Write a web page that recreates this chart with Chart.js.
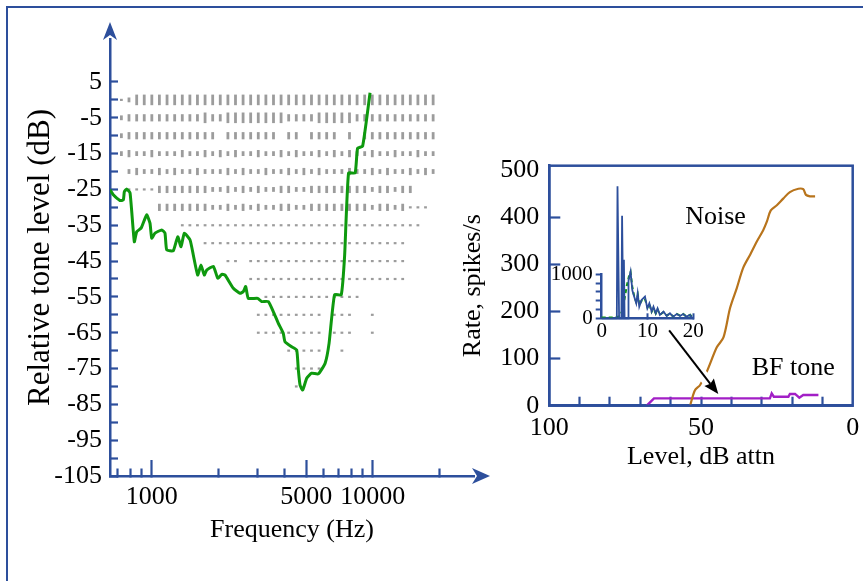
<!DOCTYPE html>
<html>
<head>
<meta charset="utf-8">
<script src="https://cdn.jsdelivr.net/npm/chart.js@4.4.1/dist/chart.umd.min.js"></script>
<style>
  html, body { margin: 0; padding: 0; background: #fff; }
  body { width: 863px; height: 581px; position: relative; overflow: hidden; }
  #frame { position: absolute; left: 6px; top: 6px; width: 900px; height: 620px;
           border-top: 2px solid #2d4f9c; border-left: 2px solid #2d4f9c; }
  canvas { position: absolute; }
  #tuning { left: 0; top: 0; }
  #rate { left: 440px; top: 140px; }
  #hist { left: 540px; top: 150px; }
</style>
</head>
<body>
<div id="frame"></div>
<canvas id="tuning" width="500" height="581"></canvas>
<canvas id="rate" width="423" height="341"></canvas>
<canvas id="hist" width="180" height="200"></canvas>
<script>
// ---- left panel: tuning curve over the response area ----
const freqTicks = [700, 800, 900, 1000, 2000, 3000, 4000, 5000, 6000, 7000, 8000, 9000, 10000, 20000];
const freqLabeled = [1000, 5000, 10000];
const levelTicks = [-105, -100, -95, -90, -85, -80, -75, -70, -65, -60, -55, -50, -45, -40,
                    -35, -30, -25, -20, -15, -10, -5, 0, 5];
const levelLabeled = [-105, -95, -85, -75, -65, -55, -45, -35, -25, -15, -5, 5];

const tuningFreq = [648, 670, 719, 744, 752, 771, 798, 834, 855, 895, 949, 982, 1000,
  1035, 1110, 1148, 1169, 1252, 1311, 1357, 1404, 1491, 1542, 1614, 1670, 1729, 1773,
  1901, 1990, 2073, 2145, 2340, 2509, 2597, 2662, 2734, 3016, 3142, 3370, 3547, 3735,
  3933, 4007, 4292, 4526, 4605, 4687, 4819, 5025, 5289, 5669, 6088, 6344, 6714, 7200,
  7455, 7770, 8320, 8535, 8997, 9720];
const tuningLevel = [-25.1, -26.5, -28.1, -27.9, -25.6, -24.9, -26.0, -39.6, -36.8, -35.8, -32.1, -34.4, -38.6,
  -37.2, -36.3, -37.2, -41.9, -42.1, -38.2, -41.0, -37.2, -39.1, -43.3, -48.9, -46.1, -48.9, -47.5,
  -46.5, -49.8, -48.7, -48.9, -52.6, -54.0, -53.5, -52.1, -55.4, -55.4, -56.3, -56.3, -59.1, -62.3,
  -65.1, -67.5, -68.9, -69.8, -75.4, -79.6, -81.0, -77.7, -76.3, -76.5, -73.5, -67.9, -54.4, -54.4,
  -43.7, -20.4, -20.4, -13.5, -12.9, 2.0];

// stimulus frequencies of the raster and one string per level row
// (0 = no response, 1..4 = small to tall mark)
const rasterFreq = [729, 789, 855, 925, 1001, 1083, 1173, 1270, 1375, 1488,
  1610, 1743, 1887, 2042, 2211, 2393, 2590, 2803, 3034, 3284,
  3555, 3847, 4164, 4507, 4879, 5281, 5716, 6187, 6697, 7249,
  7846, 8492, 9192, 9949, 10769, 11656, 12617, 13656, 14782, 16000,
  17318, 18750];
const rasterLevel = [0, -5, -10, -15, -20, -25, -30, -35, -40, -45, -50, -55, -60, -65, -70, -75, -80];
const rasterRows = [
  '124444 444444 444444 444444 444444 444444 444444',
  '233333 333334 334444 444433 334444 433333 333333',
  '233333 333333 303333 333033 033330 303333 333333',
  '232232 223223 232322 322323 223232 322322 322322',
  '023223 232232 223232 232232 323222 322323 223232',
  '011113 333333 223232 322332 233333 333233 233000',
  '000003 333333 223232 322332 233333 333233 231110',
  '000000 001111 111111 111111 111111 111111 111100',
  '000000 000001 111111 111111 111111 111111 110000',
  '000000 000000 001101 111111 111111 111111 110000',
  '000000 000000 000001 111111 111111 111111 110000',
  '000000 000000 000000 011111 111111 110000 000000',
  '000000 000000 000000 111111 111011 100100 000000',
  '000000 000000 000000 111111 111011 100100 000000',
  '000000 000000 000000 000011 111001 000000 000000',
  '000000 000000 000000 000001 111000 000000 000000',
  '000000 000000 000000 000001 000000 000000 000000'
];

// ---- right panel: rate-level functions ----
const attnTicks = [0, 10, 20, 30, 40, 50, 60, 70, 80, 90, 100];
const attnLabeled = [0, 50, 100];
const rateTicks = [0, 100, 200, 300, 400, 500];
const noiseLevel = [53.6, 52.0, 50.3, 47.9, 44.8, 42.6, 40.4, 38.2, 36.1, 33.8, 31.6,
  29.5, 28.3, 27.0, 25.0, 22.9, 20.7, 17.9, 16.3, 15.4, 14.1, 12.4];
const noiseRate = [0, 33, 44, 75, 124, 145, 208, 250, 293, 321, 349,
  373, 391, 415, 426, 440, 454, 461, 460, 448, 445, 445];
const toneLevel = [67.9, 65.5, 27.3, 26.7, 26.0, 21.2, 20.7, 19.0, 17.6, 16.3, 11.3];
const toneRate = [0, 15.6, 15.6, 26, 19, 19, 25, 25, 17, 22.6, 22.6];
const noteText = ['Noise', 'BF tone'];
const noteLevel = [45.2, 19.6];
const noteRate = [401, 79];
const arrowLevel = [60.5, 44.3];
const arrowRate = [160, 24.6];

// ---- inset: period histogram ----
const histTimeTicks = [0, 10, 20];
const histRateTicks = [0, 200, 400, 600, 800, 1000];
const histRateLabeled = [0, 1000];
const psthTime = [0, 3.3, 3.45, 3.8, 4.3, 4.45, 4.7, 4.85, 5.0, 5.8, 5.85, 6.3, 6.7, 7.1, 7.55,
  7.85, 8.2, 8.7, 9.45, 9.96, 10.4, 10.9, 11.3, 11.8, 12.2, 12.7, 13.5, 14.2, 14.9, 15.6,
  16.4, 17.1, 17.8, 18.5, 19.3, 19.8];
const psthRate = [0, 0, 3000, 0, 0, 2330, 0, 1330, 0, 0, 850, 1060, 630, 490, 340,
  570, 265, 417, 492, 227, 340, 152, 265, 114, 227, 76, 152, 53, 114, 38,
  98, 53, 98, 38, 76, 0];
const fitTime = [0, 3.0, 3.9, 4.4, 5.0, 5.5, 6.0, 6.3, 6.7, 7.1, 7.5, 7.9, 8.2, 8.7, 9.4, 10.0,
  10.4, 10.9, 11.3, 11.8, 12.2, 12.7, 13.5, 14.2, 14.9, 15.6, 16.4, 17.1, 17.8, 18.5, 19.3, 19.8];
const fitRate = [20, 20, 50, 150, 450, 750, 980, 1050, 700, 500, 380, 520, 300, 400, 450, 250,
  330, 150, 230, 110, 200, 80, 140, 60, 110, 40, 100, 60, 100, 40, 80, 20];

const BLUE = '#2d4f9c';
const GRAY = '#9c9c9c';
const GREEN = '#0e990e';
const NONE = 'rgba(0,0,0,0)';
const dashHalf = [0, 1.1, 2.4, 3.6, 5.3];

Chart.defaults.font.family = "'Liberation Serif', 'Times New Roman', serif";
Chart.defaults.font.size = 26;
Chart.defaults.color = '#000';
Chart.defaults.animation = false;
Chart.defaults.events = [];
Chart.defaults.plugins.legend.display = false;
Chart.defaults.plugins.tooltip.enabled = false;

const pts = (xs, ys) => xs.map((v, i) => ({x: v, y: ys[i]}));
const fixTicks = list => scale => { scale.ticks = list.map(v => ({value: v})); };
// force the axis box size and drop the label overhang so the plot area sits where we want it
const sizeY = w => s => { s.width = w; s.paddingTop = 0; s.paddingBottom = 0; };
const sizeX = h => s => { s.height = h; s.paddingLeft = 0; s.paddingRight = 0; };

function arrowHead(ctx, x, y, angle, len, half, notch) {
  ctx.save();
  ctx.translate(x, y);
  ctx.rotate(angle);
  ctx.beginPath();
  ctx.moveTo(0, 0);
  ctx.lineTo(-len, -half);
  ctx.lineTo(-len + notch, 0);
  ctx.lineTo(-len, half);
  ctx.closePath();
  ctx.fill();
  ctx.restore();
}

const rasterPoints = [];
rasterRows.forEach((row, r) => {
  row.replace(/ /g, '').split('').forEach((c, j) => {
    if (c !== '0' && j < rasterFreq.length) {
      rasterPoints.push({x: rasterFreq[j], y: rasterLevel[r], h: +c});
    }
  });
});

const axisArrows = {
  id: 'axisArrows',
  afterDraw(chart) {
    const {ctx, chartArea: a} = chart;
    ctx.save();
    ctx.fillStyle = BLUE;
    arrowHead(ctx, a.left, a.top - 17, -Math.PI / 2, 18, 7, 5);
    arrowHead(ctx, a.right + 16, a.bottom, 0, 18, 8, 5);
    ctx.restore();
  }
};

new Chart(document.getElementById('tuning'), {
  type: 'scatter',
  data: {
    datasets: [{
      data: pts(tuningFreq, tuningLevel),
      showLine: true,
      borderColor: GREEN,
      borderWidth: 3,
      pointRadius: 0,
      tension: 0.15,
      order: 0
    }, {
      data: rasterPoints,
      pointStyle: 'line',
      pointRotation: 90,
      pointRadius: c => dashHalf[c.raw.h],
      pointBorderColor: GRAY,
      pointBorderWidth: 2.8,
      order: 1
    }]
  },
  options: {
    responsive: false,
    layout: {padding: {left: 0, top: 39, right: 26, bottom: 0}},
    scales: {
      x: {
        type: 'logarithmic',
        min: 647.5,
        max: 28700,
        afterBuildTicks: fixTicks(freqTicks),
        afterFit: sizeX(105),
        border: {color: BLUE, width: 2.5},
        grid: {
          drawOnChartArea: false, color: BLUE, tickLength: -16, tickWidth: 2.2,
          tickBorderDash: c => (freqLabeled.includes(c.tick.value) ? [] : [9, 40])
        },
        ticks: {
          autoSkip: false, maxRotation: 0, minRotation: 0, padding: 22,
          callback: v => (freqLabeled.includes(v) ? String(v) : '')
        },
        title: {display: true, text: 'Frequency (Hz)', padding: {top: 0, bottom: 35}}
      },
      y: {
        min: -105,
        max: 17,
        afterBuildTicks: fixTicks(levelTicks),
        afterFit: sizeY(110),
        border: {color: BLUE, width: 2.5},
        grid: {drawOnChartArea: false, color: BLUE, tickLength: -8, tickWidth: 2.2},
        ticks: {
          autoSkip: false, padding: 16,
          callback: v => (levelLabeled.includes(v) ? String(v) : '')
        },
        title: {
          display: true, text: 'Relative tone level (dB)',
          font: {size: 31}, padding: {top: 22, bottom: 0}
        }
      }
    }
  },
  plugins: [axisArrows]
});

const rateDecor = {
  id: 'rateDecor',
  afterDatasetsDraw(chart) {
    const {ctx, scales: {x, y}} = chart;
    const x0 = x.getPixelForValue(arrowLevel[0]), y0 = y.getPixelForValue(arrowRate[0]);
    const x1 = x.getPixelForValue(arrowLevel[1]), y1 = y.getPixelForValue(arrowRate[1]);
    const ang = Math.atan2(y1 - y0, x1 - x0);
    const bx = x1 - Math.cos(ang) * 13, by = y1 - Math.sin(ang) * 13;
    ctx.save();
    ctx.lineCap = 'butt';
    ctx.strokeStyle = '#fff';
    ctx.lineWidth = 11;
    ctx.beginPath(); ctx.moveTo(x0, y0 + 8); ctx.lineTo(bx, by); ctx.stroke();
    ctx.strokeStyle = '#000';
    ctx.lineWidth = 2;
    ctx.beginPath(); ctx.moveTo(x0, y0); ctx.lineTo(bx, by); ctx.stroke();
    ctx.fillStyle = '#000';
    arrowHead(ctx, x1, y1, ang, 15, 6, 2);

    ctx.font = "26px 'Liberation Serif', 'Times New Roman', serif";
    ctx.textAlign = 'center';
    ctx.textBaseline = 'middle';
    noteText.forEach((t, i) => {
      ctx.fillText(t, x.getPixelForValue(noteLevel[i]), y.getPixelForValue(noteRate[i]));
    });
    ctx.restore();
  },
  afterDraw(chart) {
    const {ctx, chartArea: a} = chart;
    ctx.save();
    ctx.strokeStyle = BLUE;
    ctx.lineWidth = 2.5;
    ctx.strokeRect(a.left, a.top, a.right - a.left, a.bottom - a.top);
    ctx.restore();
  }
};

new Chart(document.getElementById('rate'), {
  type: 'scatter',
  data: {
    datasets: [{
      data: pts(noiseLevel, noiseRate),
      showLine: true,
      borderColor: '#b8741c',
      borderWidth: 2.2,
      pointRadius: 0,
      tension: 0.3
    }, {
      data: pts(toneLevel, toneRate),
      showLine: true,
      borderColor: '#a21fc6',
      borderWidth: 2.4,
      pointRadius: 0,
      tension: 0
    }]
  },
  options: {
    responsive: false,
    layout: {padding: {left: 0, top: 25.7, right: 10.3, bottom: 0}},
    scales: {
      x: {
        type: 'linear',
        reverse: true,
        min: 0,
        max: 100,
        afterBuildTicks: fixTicks(attnTicks),
        afterFit: sizeX(75.3),
        border: {color: BLUE, width: 2.5},
        grid: {
          drawOnChartArea: false, color: BLUE, tickLength: -9, tickWidth: 2.2,
          tickColor: c => (c.tick.value % 100 === 0 ? NONE : BLUE)
        },
        ticks: {
          autoSkip: false, maxRotation: 0, minRotation: 0, padding: 15.7,
          callback: v => (attnLabeled.includes(v) ? String(v) : '')
        },
        title: {display: true, text: 'Level, dB attn', padding: {top: 0, bottom: 8.7}}
      },
      y: {
        min: 0,
        max: 510,
        afterBuildTicks: fixTicks(rateTicks),
        afterFit: sizeY(109.3),
        border: {color: BLUE, width: 2.5},
        grid: {
          drawOnChartArea: false, color: BLUE, tickLength: -11, tickWidth: 2.2,
          tickColor: c => (c.tick.value === 0 || c.tick.value === 500 ? NONE : BLUE)
        },
        ticks: {autoSkip: false, padding: 21},
        title: {display: true, text: 'Rate, spikes/s', padding: {top: 17.4, bottom: 0}}
      }
    }
  },
  plugins: [rateDecor]
});

new Chart(document.getElementById('hist'), {
  type: 'scatter',
  data: {
    datasets: [{
      data: pts(psthTime, psthRate),
      showLine: true,
      borderColor: BLUE,
      borderWidth: 1.8,
      pointRadius: 0,
      clip: false
    }, {
      data: pts(fitTime, fitRate),
      showLine: true,
      borderColor: GREEN,
      borderWidth: 2,
      borderDash: [4, 3],
      pointRadius: 0,
      clip: false
    }]
  },
  options: {
    responsive: false,
    layout: {padding: {left: 0, top: 124.3, right: 26.7, bottom: 0}},
    scales: {
      x: {
        min: 0,
        max: 20,
        afterBuildTicks: fixTicks(histTimeTicks),
        afterFit: sizeX(31.7),
        border: {color: BLUE, width: 2.5},
        grid: {
          drawOnChartArea: false, color: BLUE, tickLength: -5, tickWidth: 2,
          tickColor: c => (c.tick.value === 0 ? NONE : BLUE)
        },
        ticks: {autoSkip: false, maxRotation: 0, minRotation: 0, padding: 5.8, font: {size: 21}}
      },
      y: {
        min: 0,
        max: 1000,
        afterBuildTicks: fixTicks(histRateTicks),
        afterFit: sizeY(61.7),
        border: {color: BLUE, width: 2.5},
        grid: {drawOnChartArea: false, color: BLUE, tickLength: 6, tickWidth: 2},
        ticks: {
          autoSkip: false, padding: 3, font: {size: 21},
          callback: v => (histRateLabeled.includes(v) ? String(v) : '')
        }
      }
    }
  }
});
</script>
</body>
</html>
